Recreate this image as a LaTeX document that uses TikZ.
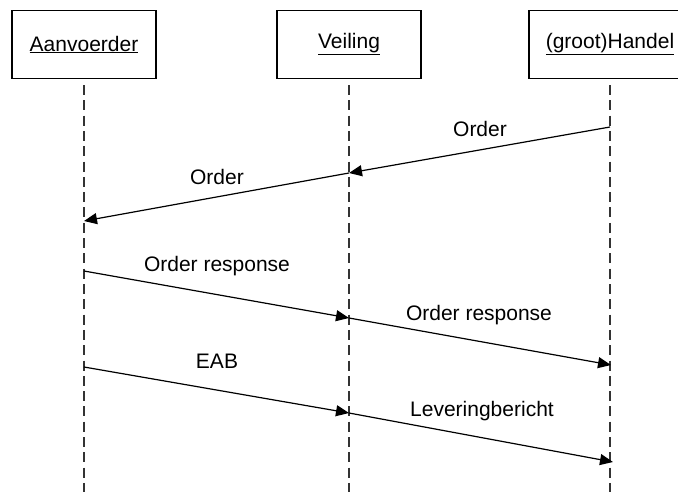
\documentclass[tikz,border=0pt]{standalone}
\usepackage{fontspec}
\setmainfont{Liberation Sans}
\usetikzlibrary{arrows.meta}
\begin{document}
\begin{tikzpicture}[x=1pt,y=-1pt,
  obj/.style={draw,line width=1.2pt,minimum height=68pt,inner sep=0pt,font=\fontsize{21}{25}\selectfont},
  life/.style={line width=1.2pt,dash pattern=on 10pt off 5.3pt,black!80},
  msg/.style={line width=1.2pt,-{Triangle[length=13pt,width=11pt]}},
  lbl/.style={anchor=base,inner sep=0pt,font=\fontsize{21}{25}\selectfont}]
\useasboundingbox (0,0) rectangle (678,492);
\node[obj,minimum width=144pt] (A) at (84,44.5) {\underline{Aanvoerder}};
\node[obj,minimum width=144pt] (V) at (349,44.5) {\underline{Veiling}};
\node[obj,minimum width=162pt] (H) at (610,44.5) {\underline{(groot)Handel}};
\coordinate (Ae) at (84,492);
\coordinate (Ve) at (349,492);
\coordinate (He) at (610,492);
\draw[life] ([yshift=-6pt]A.south) -- (Ae);
\draw[life] ([yshift=-6pt]V.south) -- (Ve);
\draw[life] ([yshift=-6pt]H.south) -- (He);
% message points
\coordinate (h1) at (610,127);
\coordinate (v1) at (349,173);
\coordinate (a1) at (84,221);
\coordinate (a2) at (84,271);
\coordinate (v2) at (349,318);
\coordinate (h2) at (611,365);
\coordinate (a3) at (84,367);
\coordinate (v3) at (349,413);
\coordinate (h3) at (613,462);
\draw[msg] (h1) -- (v1);
\draw[msg] (v1) -- (a1);
\draw[msg] (a2) -- (v2);
\draw[msg] (v2) -- (h2);
\draw[msg] (a3) -- (v3);
\draw[msg] (v3) -- (h3);
\node[lbl] (l1) at (480,137) {Order};
\node[lbl] (l2) at (217,185) {Order};
\node[lbl] (l3) at (217,271.5) {Order response};
\node[lbl] (l4) at (479,320.5) {Order response};
\node[lbl] (l5) at (217,368.5) {EAB};
\node[lbl] (l6) at (482,416.5) {Leveringbericht};
\end{tikzpicture}
\end{document}
